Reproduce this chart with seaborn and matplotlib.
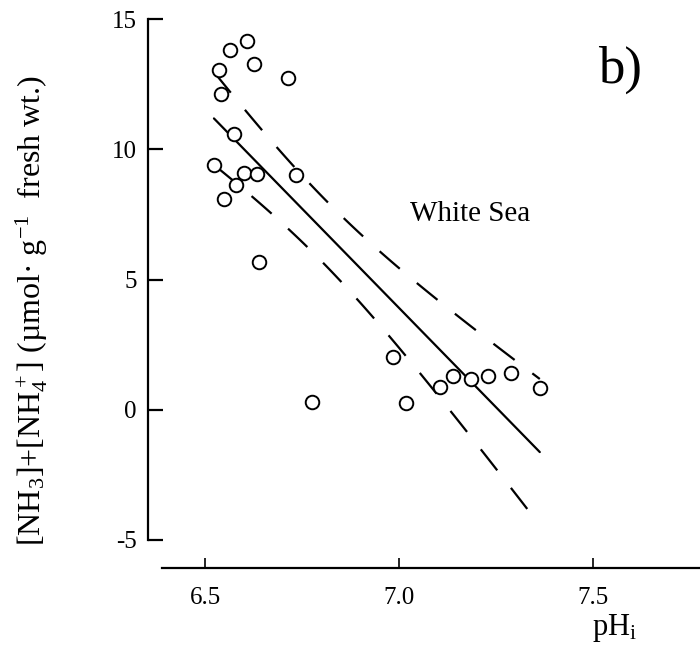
import numpy as np
import pandas as pd
import matplotlib
matplotlib.use("Agg")
import matplotlib.pyplot as plt
import seaborn as sns

# Intracellular pH vs. total ammonia, White Sea specimens
ph_i = [6.523, 6.536, 6.541, 6.564, 6.608, 6.626, 6.714, 6.575, 6.549, 6.580,
        6.601, 6.634, 6.639, 6.735, 6.776, 6.985, 7.018, 7.106, 7.139, 7.186,
        7.229, 7.289, 7.363]
ammonia = [9.40, 13.05, 12.13, 13.82, 14.16, 13.28, 12.74, 10.60, 8.10, 8.64,
           9.10, 9.06, 5.68, 9.02, 0.31, 2.03, 0.27, 0.88, 1.31, 1.19,
           1.31, 1.42, 0.84]
x_ticks = [6.5, 7.0, 7.5]
y_ticks = [-5, 0, 5, 10, 15]
site_label = "White Sea"
panel_label = "b)"

sns.set_theme(style="white")
plt.rcParams["font.family"] = ["Liberation Serif", "DejaVu Serif"]
plt.rcParams["mathtext.fontset"] = "custom"
plt.rcParams["mathtext.rm"] = "Liberation Serif"
plt.rcParams["mathtext.it"] = "Liberation Serif:italic"
plt.rcParams["text.color"] = "black"

df = pd.DataFrame({"ph": ph_i, "nh": ammonia})

# Ordinary least squares fit with 95% confidence band of the mean
x = df["ph"].to_numpy()
y = df["nh"].to_numpy()
n = len(x)
slope, intercept = np.polyfit(x, y, 1)
resid = y - (intercept + slope * x)
s = np.sqrt(np.sum(resid ** 2) / (n - 2))
sxx = np.sum((x - x.mean()) ** 2)
t_crit = 2.080  # t(0.975, df=21)
xs = np.linspace(x.min(), x.max(), 100)
fit = intercept + slope * xs
half = t_crit * s * np.sqrt(1.0 / n + (xs - x.mean()) ** 2 / sxx)
fit_df = pd.DataFrame({"ph": xs, "fit": fit, "lo": fit - half, "hi": fit + half})

fig = plt.figure(figsize=(7.0, 6.62), dpi=100)
ax = fig.add_axes([148 / 700, 1 - 568 / 662, 1 - 148 / 700, (568 - 5) / 662])

sns.lineplot(data=fit_df, x="ph", y="fit", ax=ax, color="black", lw=1.6)
for col in ("lo", "hi"):
    sns.lineplot(data=fit_df, x="ph", y=col, ax=ax, color="black", lw=1.6,
                 dashes=False, linestyle=(0, (12, 10)))
sns.scatterplot(data=df, x="ph", y="nh", ax=ax, marker="o", s=95,
                facecolor="white", edgecolor="black", linewidth=1.4, zorder=5)

ax.set_xlim(6.353, 7.776)
ax.set_ylim(-6.075, 15.54)
ax.set_xticks(x_ticks)
ax.set_xticklabels([f"{v:.1f}" for v in x_ticks])
ax.set_yticks(y_ticks)
ax.set_yticklabels([str(v) for v in y_ticks])
ax.set_xlabel("")
ax.set_ylabel("")

for side in ("top", "right"):
    ax.spines[side].set_visible(False)
ax.spines["left"].set_bounds(-5, 15)
ax.spines["bottom"].set_bounds(6.39, 7.776)
for side in ("left", "bottom"):
    ax.spines[side].set_color("black")
    ax.spines[side].set_linewidth(1.6)

ax.tick_params(axis="y", direction="in", length=11, width=1.6, labelsize=18,
               pad=8, colors="black", left=True)
ax.tick_params(axis="x", direction="in", length=7, width=1.2, labelsize=18,
               pad=14, colors="black", bottom=True)

ax.text(7.183, 7.5, site_label, fontsize=21, ha="center", va="center",
        color="black")
fig.text(620 / 700, 1 - 70 / 662, panel_label, fontsize=38, ha="center",
         va="center", color="black")
fig.text(615 / 700, 1 - 628 / 662, r"pH$\mathregular{_i}$", fontsize=22,
         ha="center", va="center", color="black")
fig.text(32 / 700, 1 - 310 / 662,
         r"[NH$\mathregular{_3}$]+[NH$\mathregular{_4^+}$] (µmol· g$\mathregular{^{-1}}$  fresh wt.)",
         fontsize=23, rotation=90, ha="center", va="center", color="black")

fig.savefig("out.png", dpi=100, facecolor="white")
